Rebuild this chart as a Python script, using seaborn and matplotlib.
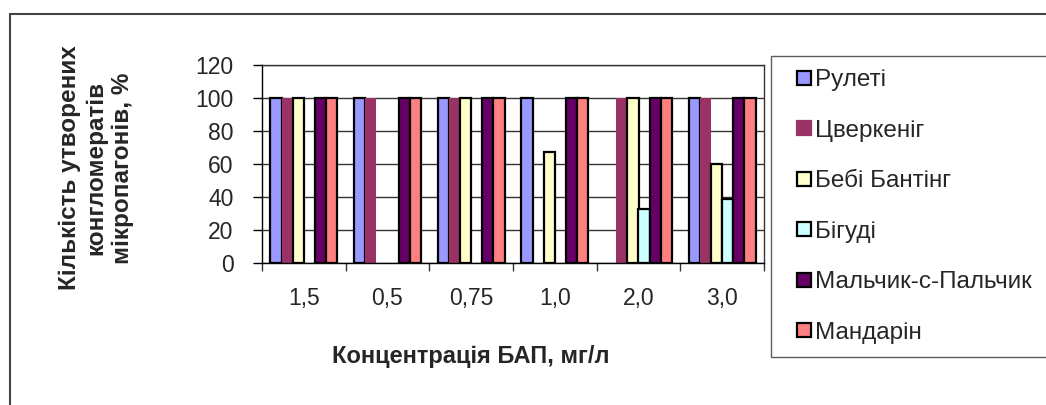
import numpy as np
import pandas as pd
import matplotlib
matplotlib.use('Agg')
import matplotlib.pyplot as plt
import matplotlib.patches as mpatches
from matplotlib.lines import Line2D
import seaborn as sns

# Data
concentrations = ['1,5', '0,5', '0,75', '1,0', '2,0', '3,0']
varieties = ['Рулеті', 'Цверкеніг', 'Бебі Бантінг', 'Бігуді',
             'Мальчик-с-Пальчик', 'Мандарін']
ruleti = [100, 100, 100, 100, 0, 100]
tsverkenig = [100, 100, 100, 0, 100, 100]
bebi_banting = [100, 0, 100, 67, 100, 60]
bigudi = [0, 0, 0, 0, 33, 39]
malchik = [100, 100, 100, 100, 100, 100]
mandarin = [100, 100, 100, 100, 100, 100]

colors = ['#9999FF', '#993366', '#FFFFCC', '#CCFFFF', '#660066', '#FF8080']
no_edge = {'Цверкеніг'}

sns.set_theme(style='white')
plt.rcParams['font.family'] = ['Liberation Sans', 'DejaVu Sans']

series = [ruleti, tsverkenig, bebi_banting, bigudi, malchik, mandarin]
rows = []
for name, vals in zip(varieties, series):
    for c, v in zip(concentrations, vals):
        rows.append({'conc': c, 'value': v, 'variety': name})
df = pd.DataFrame(rows)

W, H = 1046, 405
fig = plt.figure(figsize=(W / 100, H / 100), dpi=100)
ax = fig.add_axes([262 / W, 1 - 263 / H, (764 - 262) / W, (263 - 65) / H])

sns.barplot(data=df, x='conc', y='value', hue='variety', order=concentrations,
            hue_order=varieties, palette=colors, width=0.8, ax=ax,
            edgecolor='black', linewidth=1.6, legend=False, saturation=1)

# Per-series edges; hide empty bars
for name, container in zip(varieties, ax.containers):
    for bar in container:
        if bar.get_height() == 0:
            bar.set_visible(False)
        if name in no_edge:
            bar.set_edgecolor('none')

ax.set_ylim(0, 120)
ax.set_yticks(np.arange(0, 121, 20))
ax.set_xlim(-0.5, len(concentrations) - 0.5)
ax.yaxis.grid(True, color='#333333', linewidth=1)
ax.set_axisbelow(True)
for sp in ax.spines.values():
    sp.set_visible(True)
    sp.set_color('#333333')
    sp.set_linewidth(1)
ax.spines['left'].set_color('black')
ax.spines['bottom'].set_color('black')

ax.set_xticks(np.arange(-0.5, len(concentrations), 1), minor=True)
ax.tick_params(axis='x', which='major', length=0, pad=17, labelsize=16.5)
ax.tick_params(axis='x', which='minor', length=6, width=1, color='#333333',
               direction='out', bottom=True)
ax.tick_params(axis='y', length=6.5, width=1, direction='out', left=True,
               pad=14, labelsize=16.5, color='black')
ax.set_xlabel('')
ax.set_ylabel('')

fig.text(96 / W, 1 - 168 / H,
         'Кількість утворених\nконгломератів\nмікропагонів, %',
         rotation=90, ha='center', va='center', multialignment='center',
         fontsize=17.5, fontweight='bold', linespacing=1.2)
fig.text(471 / W, 1 - 356 / H, 'Концентрація БАП, мг/л',
         ha='center', va='center', fontsize=17, fontweight='bold')

handles = []
for name, col in zip(varieties, colors):
    handles.append(Line2D([], [], linestyle='none', marker='s', markersize=9.5,
                          markerfacecolor=col,
                          markeredgecolor=col if name in no_edge else 'black',
                          markeredgewidth=1.6, label=name))
leg = fig.legend(handles=handles, loc='upper left',
                 bbox_to_anchor=(771 / W, 1 - 354 / H, 0.3, (354 - 56) / H),
                 bbox_transform=fig.transFigure, mode='expand',
                 fontsize=17.5, frameon=True, fancybox=False, borderpad=0.55,
                 labelspacing=1.17, handlelength=1.6,
                 handletextpad=-0.35, borderaxespad=0)
leg.get_frame().set_edgecolor('#333333')
leg.get_frame().set_linewidth(1)

# outer chart border (clipped by the image on right and bottom)
fig.patches.append(mpatches.Rectangle((10 / W, -0.2), 1.2, 1.2 - 14 / H,
                                      transform=fig.transFigure, fill=False,
                                      edgecolor='#444444', linewidth=1.5))

fig.savefig('out.png', dpi=100, facecolor='white')
